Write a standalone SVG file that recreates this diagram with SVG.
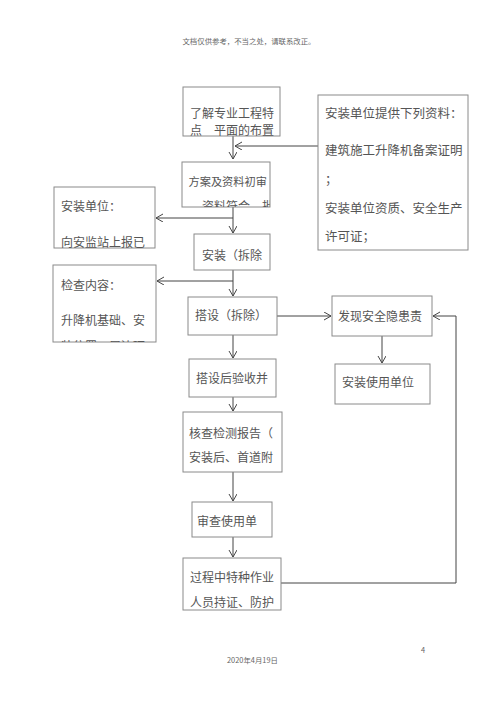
<svg xmlns="http://www.w3.org/2000/svg" width="500" height="707" viewBox="0 0 500 707">
<defs>
<style>
.bx{fill:#fff;stroke:#8a8a8a;stroke-width:1}
.t{font-family:"Noto Sans CJK SC","Noto Sans",sans-serif;font-size:12px;fill:#555}
.tr{font-size:12.5px}
.c{fill:none;stroke:#444;stroke-width:1}
.hd{font-family:"Noto Sans CJK SC","Liberation Serif",serif;font-size:7.4px;fill:#666}
</style>
<marker id="ah" markerWidth="10" markerHeight="10" refX="7" refY="4" orient="auto" markerUnits="userSpaceOnUse">
<path d="M0,0 L7,4 L0,8" fill="none" stroke="#444" stroke-width="1"/>
</marker>
<clipPath id="c1"><rect x="183" y="87" width="97" height="49"/></clipPath>
<clipPath id="c2"><rect x="182" y="162" width="88" height="45"/></clipPath>
<clipPath id="cB"><rect x="53" y="265" width="103" height="77"/></clipPath>
<clipPath id="cR"><rect x="318" y="95" width="150" height="155"/></clipPath>
</defs>
<rect width="500" height="707" fill="#fff"/>
<text class="hd" x="249" y="44" text-anchor="middle">文档仅供参考，不当之处，请联系改正。</text>

<g id="connectors">
<path class="c" d="M233,136 V159" marker-end="url(#ah)"/>
<path class="c" d="M318,146 H235" marker-end="url(#ah)"/>
<path class="c" d="M233,207 V233" marker-end="url(#ah)"/>
<path class="c" d="M233,218 H156" marker-end="url(#ah)"/>
<path class="c" d="M233,270 V296" marker-end="url(#ah)"/>
<path class="c" d="M233,281 H157" marker-end="url(#ah)"/>
<path class="c" d="M277,316 H331" marker-end="url(#ah)"/>
<path class="c" d="M382,336 V363" marker-end="url(#ah)"/>
<path class="c" d="M233,335 V358" marker-end="url(#ah)"/>
<path class="c" d="M233,397 V411" marker-end="url(#ah)"/>
<path class="c" d="M233,472 V501" marker-end="url(#ah)"/>
<path class="c" d="M233,537 V557" marker-end="url(#ah)"/>
<path class="c" d="M281,583 H456 V316 H433" marker-end="url(#ah)"/>
</g>

<g id="n1">
<rect class="bx" x="183" y="87" width="97" height="49"/>
<g clip-path="url(#c1)">
<text class="t" x="190" y="117.5">了解专业工程特</text>
<text class="t" x="190" y="135">点　平面的布置</text>
</g>
</g>

<g id="nR">
<rect class="bx" x="318" y="95" width="150" height="155"/>
<g clip-path="url(#cR)">
<text class="t tr" x="325" y="117.5">安装单位提供下列资料：</text>
<text class="t tr" x="325" y="154.5">建筑施工升降机备案证明</text>
<text class="t tr" x="325" y="183.5">；</text>
<text class="t tr" x="325" y="212.5">安装单位资质、安全生产</text>
<text class="t tr" x="325" y="240.5">许可证；</text>
</g>
</g>

<g id="n2">
<rect class="bx" x="182" y="162" width="88" height="45"/>
<g clip-path="url(#c2)">
<text class="t" x="188.5" y="185.5" style="font-size:11.2px">方案及资料初审</text>
<text class="t" x="202" y="211">资料符合，批</text>
</g>
</g>

<g id="nA">
<rect class="bx" x="54" y="187" width="101" height="61"/>
<text class="t" x="61" y="210.5">安装单位：</text>
<text class="t" x="61" y="246.5">向安监站上报已</text>
</g>

<g id="n3">
<rect class="bx" x="194" y="234" width="76" height="36"/>
<text class="t" x="202" y="259.5">安装（拆除</text>
</g>

<g id="nB">
<rect class="bx" x="53" y="265" width="103" height="77"/>
<g clip-path="url(#cB)">
<text class="t" x="61" y="289.5">检查内容：</text>
<text class="t" x="61" y="324.5">升降机基础、安</text>
<text class="t" x="61" y="351">装位置、周边环</text>
</g>
</g>

<g id="n4">
<rect class="bx" x="188" y="297" width="89" height="38"/>
<text class="t" x="195" y="319.5">搭设（拆除）</text>
</g>

<g id="n5">
<rect class="bx" x="332" y="296" width="100" height="40"/>
<text class="t" x="338" y="320.5">发现安全隐患责</text>
</g>

<g id="n6">
<rect class="bx" x="335" y="364" width="95" height="40"/>
<text class="t" x="342" y="386.5">安装使用单位</text>
</g>

<g id="n7">
<rect class="bx" x="189" y="359" width="87" height="38"/>
<text class="t" x="196" y="382.5">搭设后验收并</text>
</g>

<g id="n8">
<rect class="bx" x="183" y="412" width="99" height="60"/>
<text class="t" x="189" y="437.5">核查检测报告（</text>
<text class="t" x="189" y="461.5">安装后、首道附</text>
</g>

<g id="n9">
<rect class="bx" x="192" y="502" width="80" height="35"/>
<text class="t" x="197" y="525.5">审查使用单</text>
</g>

<g id="n10">
<rect class="bx" x="183" y="558" width="98" height="52"/>
<text class="t" x="190" y="581.5">过程中特种作业</text>
<text class="t" x="190" y="606.5">人员持证、防护</text>
</g>

<text class="hd" x="421" y="653">4</text>
<text class="hd" x="227" y="663">2020年4月19日</text>
</svg>
